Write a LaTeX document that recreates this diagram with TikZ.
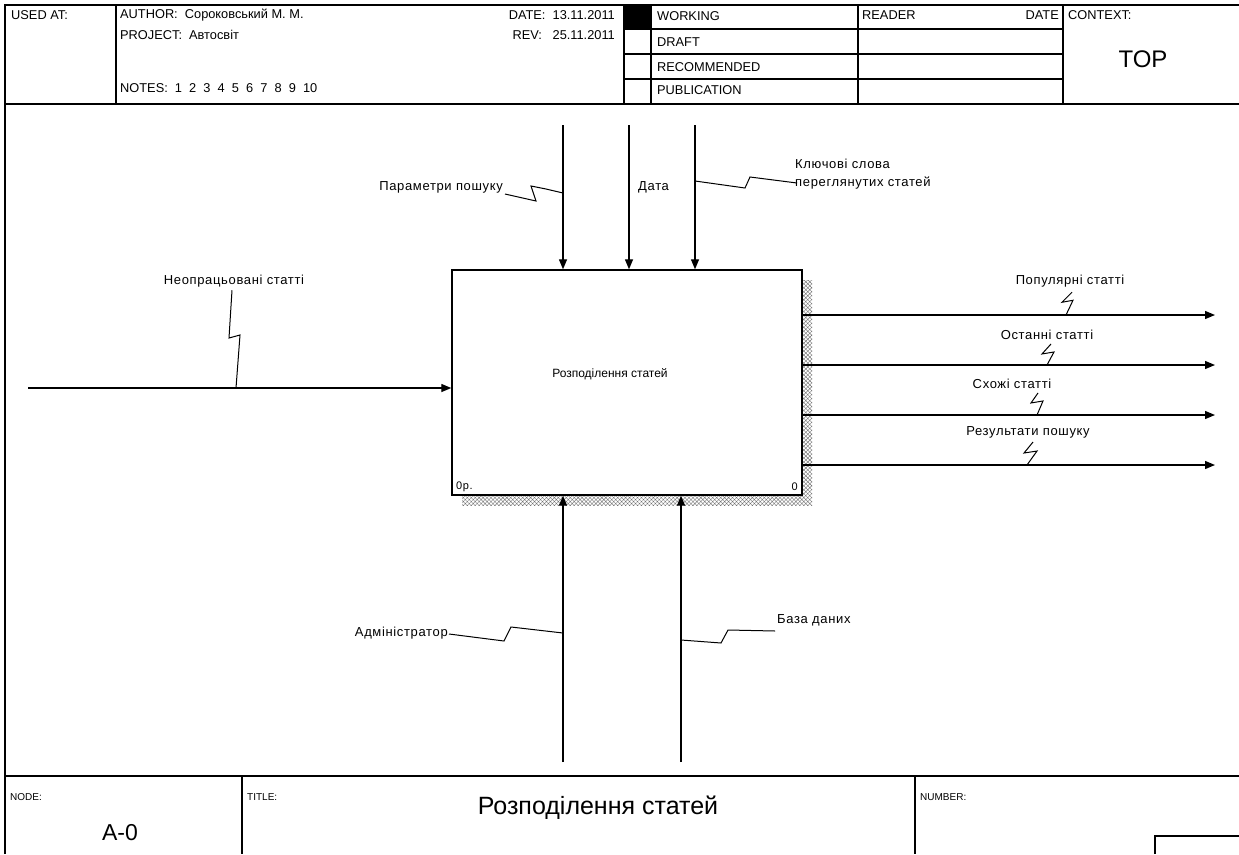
\documentclass[tikz,border=0pt]{standalone}
\usepackage{fontspec}
\setmainfont{Liberation Sans}
\newfontfamily\lblfont[LetterSpace=5]{Liberation Sans}
\usetikzlibrary{positioning,arrows.meta,calc,patterns.meta}
\tikzset{
    ideframe/.style={draw, line width=1.6pt},
    idefrule/.style={draw, line width=1.1pt},
    idefhead/.style={anchor=west, inner sep=0pt, font=\fontsize{12.8}{15}\selectfont},
    idefsmall/.style={anchor=west, inner sep=0pt, font=\fontsize{10}{12}\selectfont},
    idefbox/.style={draw, line width=1.4pt, fill=white, minimum width=350pt, minimum height=225pt, inner sep=0pt},
    idefshadow/.style={pattern={Hatch[angle=45,distance=2.8pt,line width=0.4pt]}, pattern color=black!55},
    idefarrow/.style={draw, line width=1.3pt, -{Triangle[length=10pt,width=8pt]}},
    idefsquig/.style={draw, line width=1pt, line join=miter},
    ideflabel/.style={inner sep=0pt, align=left, font=\lblfont\fontsize{13}{18}\selectfont}
}
\begin{document}
\begin{tikzpicture}[x=1pt, y=-1pt]
    \useasboundingbox (0,0) rectangle (1239,854);
    % header
    \draw[ideframe] (5,854) -- (5,5) -- (1239,5);
    \draw[ideframe] (5,104) -- (1239,104);
    \foreach \xx in {116,624,651,858,1063}
        \draw[idefrule] (\xx,5) -- (\xx,104);
    \foreach \yy in {29,54,79}
        \draw[idefrule] (624,\yy) -- (1063,\yy);
    \fill (624,5) rectangle (651,29);
    \node[idefhead] (usedat) at (11,15) {USED AT:};
    \node[idefhead] (author) at (120,15) {AUTHOR:\ \ Сороковський М. М.};
    \node[idefhead] (project) at (120,35) {PROJECT:\ \ Автосвіт};
    \node[idefhead] (notes) at (120,88) {NOTES:\ \ 1\ \ 2\ \ 3\ \ 4\ \ 5\ \ 6\ \ 7\ \ 8\ \ 9\ \ 10};
    \node[idefhead, anchor=east] (date) at (615,15) {DATE:\ \ 13.11.2011};
    \node[idefhead, anchor=east] (rev) at (615,35) {REV:\ \ \ 25.11.2011};
    \node[idefhead] (working) at (657,16) {WORKING};
    \node[idefhead] (draft) at (657,42) {DRAFT};
    \node[idefhead] (recom) at (657,67) {RECOMMENDED};
    \node[idefhead] (publ) at (657,90) {PUBLICATION};
    \node[idefhead] (reader) at (862,15) {READER};
    \node[idefhead, anchor=east] (rdate) at (1059,15) {DATE};
    \node[idefhead] (context) at (1068,15) {CONTEXT:};
    \node[inner sep=0pt, font=\fontsize{24}{28}\selectfont] (top) at (1143,59) {TOP};

    % activity box
    \fill[idefshadow] (462,280) rectangle (812,505);
    \node[idefbox] (func) at (627,382.5) {};
    \node[inner sep=0pt, font=\fontsize{12}{14}\selectfont] (funcname) at (610,374) {Розподілення статей};
    \node[idefsmall, font=\lblfont\fontsize{11}{13}\selectfont] (funcno) at (456,487) {0р.};
    \node[idefsmall, anchor=east, font=\lblfont\fontsize{11}{13}\selectfont] (funccost) at (798,487) {0};

    % input
    \coordinate (in1) at (28,388);
    \draw[idefarrow] (in1) -- (in1 -| func.west);
    \node[ideflabel] (lneo) at (234,281) {Неопрацьовані статті};
    \coordinate (tneo) at (236,388);
    \draw[idefsquig] ($(lneo.south)+(-2,3)$) -- (229,338) -- (240,335) -- (tneo);

    % controls
    \coordinate (c1) at (563,125);
    \coordinate (c2) at (629,125);
    \coordinate (c3) at (695,125);
    \foreach \cc in {c1,c2,c3}
        \draw[idefarrow] (\cc) -- (\cc |- func.north);
    \node[ideflabel, anchor=east] (lpar) at (503,187) {Параметри пошуку};
    \coordinate (tpar) at (563,193);
    \draw[idefsquig] ($(lpar.south east)+(2,1)$) -- (536,201) -- (531,186) -- (546,189) -- (tpar);
    \node[ideflabel, anchor=west] (ldate) at (638,187) {Дата};
    \node[ideflabel, anchor=west] (lkey) at (795,174) {Ключові слова\\переглянутих статей};
    \coordinate (tkey) at (695,181);
    \draw[idefsquig] (tkey) -- (745,188) -- (750,177) -- ($(lkey.west)+(2,9)$);

    % outputs
    \foreach \oo/\yy in {o1/315,o2/365,o3/415,o4/465} {
        \coordinate (\oo) at (1215,\yy);
        \draw[idefarrow] (\oo -| func.east) -- (\oo);
    }
    \node[ideflabel] (lpop) at (1070,281) {Популярні статті};
    \node[ideflabel] (llast) at (1047,335) {Останні статті};
    \node[ideflabel] (lsim) at (1012,384) {Схожі статті};
    \node[ideflabel] (lres) at (1028,432) {Результати пошуку};
    \coordinate (tpop) at (1066,315);
    \coordinate (tlast) at (1047,365);
    \coordinate (tsim) at (1037,415);
    \coordinate (tres) at (1027,465);
    \draw[idefsquig] ($(lpop.south)+(2,5)$) -- ++(-10,10) -- ++(11,-2) -- (tpop);
    \draw[idefsquig] ($(llast.south)+(4,4)$) -- ++(-9,10) -- ++(12,-2) -- (tlast);
    \draw[idefsquig] ($(lsim.south)+(26,4)$) -- ++(-7,10) -- ++(12,-2) -- (tsim);
    \draw[idefsquig] ($(lres.south)+(5,4)$) -- ++(-9,11) -- ++(13,-2) -- (tres);

    % mechanisms
    \coordinate (m1) at (563,762);
    \coordinate (m2) at (681,762);
    \foreach \mm in {m1,m2}
        \draw[idefarrow] (\mm) -- (\mm |- func.south);
    \node[ideflabel, anchor=east] (ladm) at (448,633) {Адміністратор};
    \coordinate (tadm) at (563,633);
    \draw[idefsquig] ($(ladm.east)+(1,1)$) -- (504,641) -- (511,627) -- (tadm);
    \node[ideflabel, anchor=west] (lbase) at (777,620) {База даних};
    \coordinate (tbase) at (681,640);
    \draw[idefsquig] (tbase) -- (721,643) -- (728,630) -- ($(lbase.west)+(-2,11)$);

    % footer
    \draw[ideframe] (5,776) -- (1239,776);
    \draw[idefrule] (242,776) -- (242,854);
    \draw[idefrule] (915,776) -- (915,854);
    \draw[idefrule] (1155,854) -- (1155,836) -- (1239,836);
    \node[idefsmall] (nodehead) at (10,797) {NODE:};
    \node[inner sep=0pt, font=\fontsize{23}{27}\selectfont] (nodeno) at (120,833) {A-0};
    \node[idefsmall] (titlehead) at (247,797) {TITLE:};
    \node[inner sep=0pt, font=\fontsize{25}{29}\selectfont] (title) at (598,808) {Розподілення статей};
    \node[idefsmall] (numhead) at (920,797) {NUMBER:};
\end{tikzpicture}
\end{document}
